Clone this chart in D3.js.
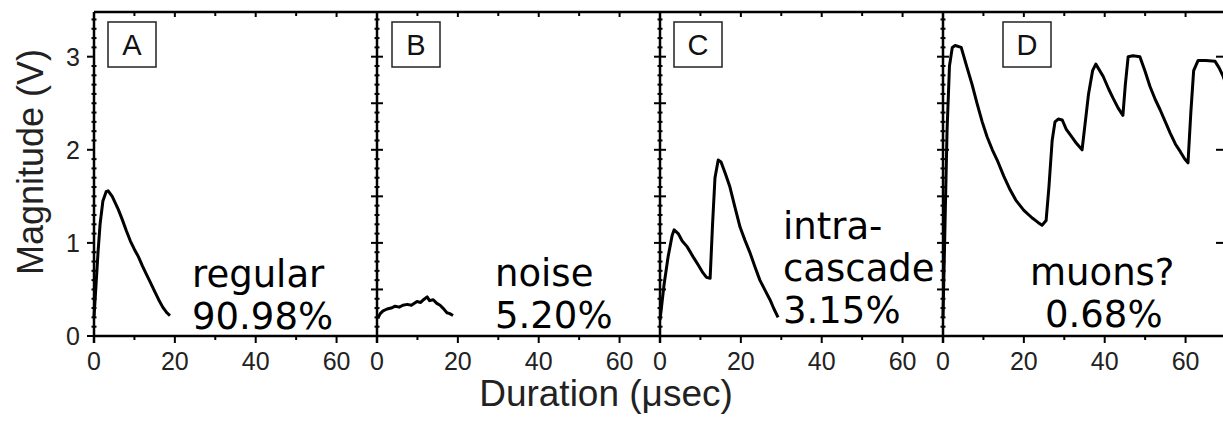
<!DOCTYPE html>
<html>
<head>
<meta charset="utf-8">
<script src="https://cdn.jsdelivr.net/npm/d3@7"></script>
<style>
  body { margin: 0; background: #fff; }
  svg { display: block; }
</style>
</head>
<body>
<svg width="1223" height="425"></svg>
<script>
const svg = d3.select("svg")

// panels
const panels = ["A", "B", "C", "D"];
const boxOffset = [14, 15, 14, 60];   // where the letter box sits inside the panel
const labels = [
    ["regular", "90.98%"],
    ["noise", "5.20%"],
    ["intra-", "cascade", "3.15%"],
    ["muons?", "0.68%"]
];

// waveforms [duration usec, magnitude V]
const waveA = [
    [0, 0.2], [0.5, 0.55], [1, 0.9], [1.5, 1.2], [2.2, 1.45], [3, 1.55], [3.5, 1.56],
    [4.5, 1.5], [6, 1.36], [7, 1.25], [8, 1.13], [9, 1.02], [10, 0.93], [11, 0.85],
    [12, 0.75], [13, 0.66], [14, 0.57], [15, 0.48], [16, 0.39], [17, 0.31], [18, 0.25], [18.8, 0.22]
];
const waveB = [
    [0.2, 0.19], [0.8, 0.24], [1.5, 0.27], [2.5, 0.29], [3.5, 0.3], [4.5, 0.32], [5.5, 0.31],
    [6.4, 0.33], [7.5, 0.34], [8.5, 0.33], [9.9, 0.37], [10.8, 0.36], [11.5, 0.39], [12.4, 0.42],
    [13, 0.38], [13.9, 0.39], [14.8, 0.35], [15.6, 0.33], [16.3, 0.3], [17.3, 0.25], [18, 0.24], [18.8, 0.22]
];
const waveC = [
    [0, 0.17], [1, 0.55], [2, 0.85], [3, 1.08], [3.5, 1.14], [4.5, 1.1], [5.5, 1.02], [6.7, 0.96],
    [8.2, 0.85], [9.5, 0.76], [10.6, 0.68], [11.5, 0.63], [12.4, 0.62], [13, 1.2], [13.6, 1.7],
    [14.4, 1.89], [15.1, 1.87], [16.2, 1.74], [17.3, 1.6], [18.5, 1.39], [19.8, 1.17], [21, 1.03],
    [22.3, 0.89], [23.5, 0.74], [24.7, 0.6], [26, 0.49], [27.2, 0.39], [28.2, 0.29], [29.2, 0.2]
];
const waveD = [
    [0, 0.2], [0.5, 1.2], [1, 2.2], [1.6, 2.9], [2.3, 3.1], [3, 3.12], [4.5, 3.1], [5.9, 2.89],
    [7.2, 2.7], [8.4, 2.5], [9.7, 2.3], [10.9, 2.14], [12.2, 2.0], [13.4, 1.89], [15, 1.72],
    [16.6, 1.57], [18, 1.46], [20, 1.35], [22, 1.27], [23.5, 1.22], [24.5, 1.19], [25.5, 1.24],
    [26.2, 1.6], [27, 2.1], [27.7, 2.3], [28.5, 2.33], [29.5, 2.32], [30.5, 2.22], [31.5, 2.16],
    [33, 2.07], [34.4, 2.0], [35.2, 2.3], [36, 2.6], [37, 2.85], [37.8, 2.92], [39.6, 2.79],
    [41, 2.65], [42, 2.56], [43.3, 2.45], [44.5, 2.37], [45.1, 2.7], [45.8, 3.0], [47, 3.01],
    [48.7, 3.0], [50, 2.84], [51.2, 2.68], [52.5, 2.54], [53.7, 2.43], [55, 2.3], [56.2, 2.18],
    [57.5, 2.06], [58.7, 1.98], [59.8, 1.9], [60.6, 1.86], [61.3, 2.4], [62, 2.85], [63.1, 2.96],
    [65, 2.96], [67.3, 2.95], [68.3, 2.88], [69.3, 2.79], [70, 2.7]
];
const waves = [waveA, waveB, waveC, waveD];

const xTicks = [0, 20, 40, 60];
const yTicks = [0, 1, 2, 3];

const plotLeft = 94, panelW = 283, plotTop = 12, plotBottom = 336;

const y = d3.scaleLinear().domain([0, 3.48]).range([plotBottom, plotTop]);

const g = svg.append("g");

panels.forEach(function(p, i) {
    const x0 = plotLeft + i * panelW;
    const x = d3.scaleLinear().domain([0, 70]).range([x0, x0 + panelW]);

    // waveform
    g.append("path")
        .datum(waves[i])
        .attr("fill", "none")
        .attr("stroke", "black")
        .attr("stroke-width", 3)
        .attr("stroke-linejoin", "round")
        .attr("d", d3.line().x(d => x(d[0])).y(d => y(d[1])));

    // bottom and top ticks
    d3.range(0, 70, 10).forEach(function(t) {
        const major = t % 20 == 0;
        g.append("line")
            .attr("x1", x(t)).attr("x2", x(t))
            .attr("y1", plotBottom).attr("y2", plotBottom + (major ? 7 : 4))
            .attr("stroke", "black").attr("stroke-width", 2);
        g.append("line")
            .attr("x1", x(t)).attr("x2", x(t))
            .attr("y1", plotTop).attr("y2", plotTop + (major ? 5 : 4))
            .attr("stroke", "black").attr("stroke-width", 2);
    });
    xTicks.forEach(function(t) {
        g.append("text")
            .attr("x", x(t)).attr("y", 370)
            .attr("text-anchor", "middle")
            .attr("font-family", "Liberation Sans, Arial, sans-serif")
            .attr("font-size", 25)
            .attr("fill", "#222")
            .text(t);
    });

    // left border ticks of the panel
    d3.range(0, 35).forEach(function(k) {
        const yy = y(k / 10);
        let a, b;
        if (i == 0) {
            const major = k % 10 == 0;
            a = major ? 7 : 2.5;
            b = major ? 0 : 2.5;
        } else {
            const major = k % 5 == 0;
            a = major ? 6 : 2.5;
            b = major ? 6 : 2.5;
        }
        g.append("line")
            .attr("x1", x0 - a).attr("x2", x0 + b)
            .attr("y1", yy).attr("y2", yy)
            .attr("stroke", "black").attr("stroke-width", 2);
    });

    // letter box
    const bx = x0 + boxOffset[i];
    g.append("rect")
        .attr("x", bx).attr("y", 22)
        .attr("width", 48).attr("height", 45)
        .attr("fill", "white")
        .attr("stroke", "#222").attr("stroke-width", 1.5);
    g.append("text")
        .attr("x", bx + 24).attr("y", 55)
        .attr("text-anchor", "middle")
        .attr("font-family", "Liberation Sans, Arial, sans-serif")
        .attr("font-size", 29)
        .attr("fill", "#111")
        .text(p);

    // label lines
    const lines = labels[i];
    const lx = [192, 495, 783, 1030][i];
    const lastY = [329, 328, 323, 327][i];
    lines.forEach(function(s, j) {
        g.append("text")
            .attr("x", (i == 3 && j == 1) ? 1045 : lx)
            .attr("y", lastY - (lines.length - 1 - j) * 42)
            .attr("font-family", "DejaVu Sans, sans-serif")
            .attr("font-size", 37)
            .attr("fill", "black")
            .text(s);
    });
});

// right edge ticks of the last panel
const xRight = plotLeft + 4 * panelW;
d3.range(0, 35).forEach(function(k) {
    const major = k % 10 == 0;
    g.append("line")
        .attr("x1", xRight - (major ? 10 : 3)).attr("x2", xRight)
        .attr("y1", y(k / 10)).attr("y2", y(k / 10))
        .attr("stroke", "black").attr("stroke-width", 2);
});

// frame lines
g.append("line").attr("x1", plotLeft).attr("x2", xRight).attr("y1", plotBottom).attr("y2", plotBottom)
    .attr("stroke", "black").attr("stroke-width", 2.5);
g.append("line").attr("x1", plotLeft).attr("x2", xRight).attr("y1", plotTop).attr("y2", plotTop)
    .attr("stroke", "black").attr("stroke-width", 2.5);
d3.range(0, 5).forEach(function(i) {
    g.append("line")
        .attr("x1", plotLeft + i * panelW).attr("x2", plotLeft + i * panelW)
        .attr("y1", plotTop).attr("y2", plotBottom + (i < 4 ? 7 : 0))
        .attr("stroke", "black").attr("stroke-width", 2.5);
});

// y tick labels
yTicks.forEach(function(t) {
    g.append("text")
        .attr("x", 80).attr("y", y(t) + 9)
        .attr("text-anchor", "end")
        .attr("font-family", "Liberation Sans, Arial, sans-serif")
        .attr("font-size", 25)
        .attr("fill", "#222")
        .text(t);
});

// axis titles
g.append("text")
    .attr("transform", "translate(43,162) rotate(-90)")
    .attr("text-anchor", "middle")
    .attr("font-family", "Liberation Sans, Arial, sans-serif")
    .attr("font-size", 36)
    .attr("fill", "#222")
    .text("Magnitude (V)");

g.append("text")
    .attr("x", 606).attr("y", 406)
    .attr("text-anchor", "middle")
    .attr("font-family", "Liberation Sans, Arial, sans-serif")
    .attr("font-size", 37)
    .attr("fill", "#222")
    .text("Duration (\u03bcsec)");
</script>
</body>
</html>
